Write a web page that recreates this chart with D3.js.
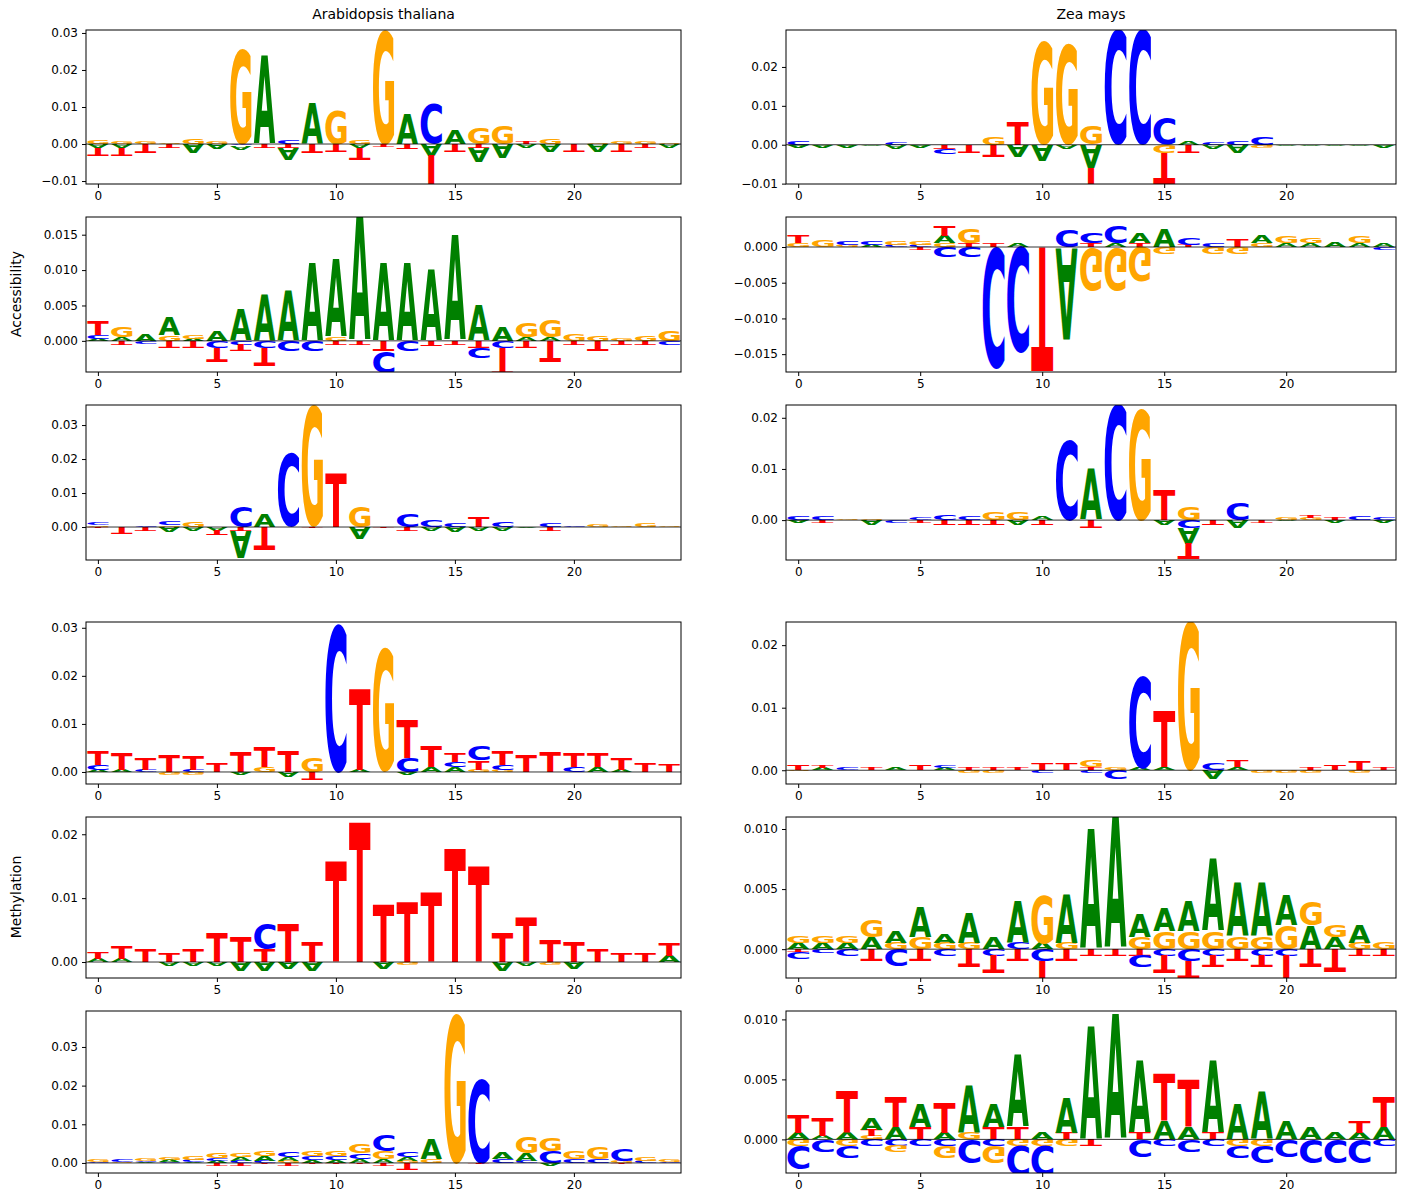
<!DOCTYPE html>
<html><head><meta charset="utf-8">
<script src="https://cdn.jsdelivr.net/npm/d3@7"></script>
<style>body{margin:0;background:#fff}svg{font-family:"DejaVu Sans",sans-serif}</style>
</head><body>
<svg id="fig" width="1409" height="1198"></svg>
<script>
// values in units of 1e-3, each row = [A, C, G, T] for one position
const letters = ['A', 'C', 'G', 'T']
const athAcc1 = [[-1,0,1,-2],[-1,0,.8,-2],[0,0,.8,-2.5],[0,0,.5,-1],[-2.5,0,1.5,0],[-1.5,0,.8,0],[-1,-.5,26,0],[24,0,0,-1],[-3,1,0,-1],[11,0,0,-2.5],[0,0,9,-2],[-1,0,1,-3],[0,0,31,-.5],[8,0,0,-1.5],[-3,11,0,-10],[4,0,0,-2],[-4,0,4.5,-1],[-4,0,5,0],[-1,0,0,.5],[-2,0,1.5,0],[0,0,0,-2],[-2,0,.5,0],[0,0,.8,-2],[0,0,.6,-1],[-1,0,.5,0]]
const athAcc2 = [[.3,.5,0,2],[.5,0,1.5,-.5],[1,-.3,0,0],[2.5,0,.8,-1],[.3,0,.5,-1],[1.5,-1,0,-2],[4.5,-.5,0,-1],[6.5,-1,0,-2.5],[7,-1.5,0,0],[11,-1.5,0,0],[11,0,.5,-.5],[18,0,0,-.5],[11,-3,0,-1.5],[11,-1.5,0,0],[10,0,0,-.8],[15,0,0,-.5],[5,-1.5,0,-1],[2,-1,0,-4],[.5,0,2,-1],[.5,0,2.5,-3],[0,0,1,-.5],[0,0,.8,-1.5],[0,0,.3,-.5],[0,0,.8,-.5],[0,-.5,1.5,0]]
const athAcc3 = [[0,.8,.5,-.5],[0,0,0,-2],[0,.5,0,-1],[-1.5,1,.5,0],[-1,0,1.5,0],[-1,0,0,-1.5],[-8,6,0,-1],[4,0,0,-7],[0,22,0,0],[0,0,36,-.5],[0,0,0,16],[-3.5,0,6,0],[0,0,0,-.5],[0,4,0,-1],[-1,2,0,0],[-1.5,1,0,0],[-1,0,0,3],[-1,1.5,0,0],[-.5,0,0,0],[0,1,0,-1],[0,.5,0,0],[0,0,.7,0],[0,0,.4,0],[0,0,1,0],[0,0,.5,0]]
const zmaAcc1 = [[-.5,1,0,0],[-.5,0,0,0],[-.8,0,0,0],[-.3,0,0,0],[-1,.5,0,0],[-.5,0,0,0],[0,-1.5,0,-1],[0,0,0,-2],[0,0,2,-3],[-3,0,0,6],[-4,0,27,0],[-1,0,26,0],[-6,0,5,-10],[0,30,0,0],[0,30,0,0],[0,7,-2,-8],[1,0,0,-2],[-1,.5,0,0],[-2,1,0,0],[0,2,-.5,0],[-.3,0,0,0],[-.3,0,0,0],[-.2,0,0,0],[-.2,0,0,0],[-.5,0,0,0]]
const zmaAcc2 = [[0,0,.5,1],[0,0,1,0],[0,.5,.3,0],[.3,.5,0,0],[0,.3,.5,0],[0,.3,.5,-.3],[1,-1.5,.5,1.5],[0,-1.5,2,.5],[0,-17,0,.5],[.5,-15,0,0],[0,0,0,-17.5],[-13,2.5,0,0],[0,1.5,-6,.5],[.5,2.5,-6,0],[1.5,0,-5,.5],[2.5,0,-1,0],[0,1,0,.3],[0,.5,-1,0],[0,0,-1,1],[1,0,.5,0],[.5,0,1,0],[.5,0,.8,0],[.8,0,0,0],[.5,0,1,0],[.6,-.3,0,0]]
const zmaAcc3 = [[-.5,.8,0,0],[0,.8,0,-.5],[0,0,.3,0],[-1,0,.3,0],[0,-.5,0,0],[0,.5,0,-.5],[0,1,0,-1],[0,.7,0,-1],[0,0,1.5,-1],[-1,0,1.5,0],[.8,0,0,-1],[0,16,0,0],[10,0,0,-1.5],[0,23,0,0],[0,0,22,0],[-1,0,0,6],[-3,-1.5,2.5,-3],[0,0,0,-1],[-1.5,3.5,0,0],[0,0,0,-.5],[-.3,0,.5,0],[0,0,.5,.5],[-.5,0,0,.5],[0,.7,0,0],[-.5,.5,0,0]]
const athMet1 = [[.5,1,0,3],[.5,0,0,3.5],[0,.5,0,2.5],[0,0,-.5,3.5],[0,.5,-.5,3],[0,0,0,2],[-.5,0,0,4],[0,0,1,4],[-1,0,0,4.5],[0,0,3,-1.5],[0,31,0,0],[.5,0,0,17],[0,0,26,0],[-.5,3,0,8],[1,0,0,4.5],[1,1,0,2],[0,3,.5,2],[0,1,.5,3],[0,0,0,3.5],[0,0,0,4],[0,1,0,3],[1,0,0,3],[.5,0,0,2.5],[0,0,0,2],[0,0,0,1.5]]
const athMet2 = [[.5,0,0,1],[.5,0,0,2],[0,0,0,2],[-.5,0,0,1.5],[-.5,0,0,2],[-.5,0,0,4.5],[-1.5,0,0,4],[-1.5,4,0,2],[-1,0,0,6],[-1.5,0,0,3],[0,0,0,16],[0,0,0,22],[-1,0,0,9],[0,0,-.5,9.5],[0,0,0,11],[0,0,0,18],[0,0,0,15],[-1.5,0,0,4.5],[-.5,0,0,7],[0,0,-.5,3.5],[-1,0,0,3],[0,0,0,2],[0,0,0,1.5],[0,0,0,1.5],[1,0,0,2]]
const athMet3 = [[0,.3,.5,0],[0,.5,.3,0],[.3,.3,.5,0],[.5,.3,.5,0],[.3,.5,1,0],[.5,.8,1.5,-.5],[1,.5,1,-.5],[1.2,.5,1.5,-.3],[1,1.5,.5,-.5],[.8,1,1.5,-.3],[.8,1,1.5,-.3],[1,1.5,2.5,-.3],[1,4,2,-.5],[1,1.5,.5,-1.5],[5,0,1,0],[0,0,39,0],[0,22,0,-.3],[1.5,1,0,0],[2,.5,4,0],[-.5,3,3.5,0],[0,1,2,0],[0,1,3,0],[0,3,.5,-.3],[0,.5,1,0],[0,.3,.5,0]]
const zmaMet1 = [[0,0,-.2,.8],[.3,0,0,.5],[0,.3,0,0],[0,0,0,.5],[.5,0,0,0],[0,0,0,.8],[.3,.5,0,0],[0,0,-.5,.5],[0,0,-.5,.5],[0,0,0,.3],[0,-.5,0,1],[0,0,0,1],[0,-.5,1,.5],[0,-1.5,.5,0],[.3,15,0,0],[.5,0,0,9],[0,0,24,0],[-1.5,1,0,0],[.5,0,0,1],[0,0,-.5,0],[0,0,-.5,0],[0,0,-.3,.5],[0,0,0,.8],[0,0,-.3,1.5],[0,0,0,.5]]
const zmaMet2 = [[.5,-.5,.5,-.2],[.5,-.3,.5,0],[.5,-.5,.5,0],[1,0,1.5,-1],[1,-1.5,.5,0],[2.5,0,1,-1],[.8,-.5,.5,0],[2.5,0,.5,-1.5],[1,-.5,0,-1.5],[3.5,.5,0,-1],[.5,-1,4,-2],[4,0,.5,-1],[10,0,0,-.5],[11,0,0,-.5],[2,-1,1,-.5],[2,-.5,1.5,-1.5],[2.5,-1,1.5,-1.5],[6,-.5,1.5,-1],[4.5,0,1,-1],[4.5,-.5,1,-1],[2.5,-.5,2,-2.5],[2,0,2,-1.5],[1,0,1,-2],[1.5,0,.5,-.5],[0,0,.5,-.5]]
const zmaMet3 = [[.5,-2,-.5,1.5],[.3,-1,0,1.5],[.5,-1,-.5,3.5],[1,-.5,.3,.5],[1,-.5,-.5,2.5],[2,-.5,0,1],[.5,-.5,-1,2.5],[4,-2,.5,0],[2,-.5,-1.5,1],[6,-2.5,-.5,1],[.5,-2.5,-.5,0],[3,0,-.5,.5],[9.5,0,0,-.5],[10.5,0,0,0],[6,-1.5,0,.5],[1.5,-.5,0,4],[1,-1,0,4],[6,-.5,0,.5],[3,-1,-.5,0],[4,-1.5,-.5,0],[1.5,-1.5,0,0],[1,-2,0,0],[.5,-2,0,0],[.5,-2,0,1],[1,-.5,0,2.5]]

const colors = { A: '#008000', C: '#0000ff', G: '#ffa500', T: '#ff0000' }
const positions = d3.range(25)

const panels = [
  { data: athAcc1, col: 0, y0: 30, y1: 184, dom: [-0.0108, 0.0308], ticks: [-0.01, 0, 0.01, 0.02, 0.03], fmt: '.2f' },
  { data: athAcc2, col: 0, y0: 217, y1: 372, dom: [-0.0044, 0.0175], ticks: [0, 0.005, 0.01, 0.015], fmt: '.3f' },
  { data: athAcc3, col: 0, y0: 405, y1: 560, dom: [-0.0097, 0.0359], ticks: [0, 0.01, 0.02, 0.03], fmt: '.2f' },
  { data: athMet1, col: 0, y0: 622, y1: 784, dom: [-0.0025, 0.0312], ticks: [0, 0.01, 0.02, 0.03], fmt: '.2f' },
  { data: athMet2, col: 0, y0: 817, y1: 978, dom: [-0.0025, 0.0227], ticks: [0, 0.01, 0.02], fmt: '.2f' },
  { data: athMet3, col: 0, y0: 1011, y1: 1173, dom: [-0.0026, 0.0393], ticks: [0, 0.01, 0.02, 0.03], fmt: '.2f' },
  { data: zmaAcc1, col: 1, y0: 30, y1: 184, dom: [-0.0101, 0.0295], ticks: [-0.01, 0, 0.01, 0.02], fmt: '.2f' },
  { data: zmaAcc2, col: 1, y0: 217, y1: 372, dom: [-0.0175, 0.0042], ticks: [-0.015, -0.01, -0.005, 0], fmt: '.3f' },
  { data: zmaAcc3, col: 1, y0: 405, y1: 560, dom: [-0.0078, 0.0225], ticks: [0, 0.01, 0.02], fmt: '.2f' },
  { data: zmaMet1, col: 1, y0: 622, y1: 784, dom: [-0.0022, 0.0237], ticks: [0, 0.01, 0.02], fmt: '.2f' },
  { data: zmaMet2, col: 1, y0: 817, y1: 978, dom: [-0.0024, 0.011], ticks: [0, 0.005, 0.01], fmt: '.3f' },
  { data: zmaMet3, col: 1, y0: 1011, y1: 1173, dom: [-0.0028, 0.0107], ticks: [0, 0.005, 0.01], fmt: '.3f' },
]
const colX = [[86, 681], [786, 1396]]

// ink bounds of each glyph, used to stretch letters into their boxes
const ctx = document.createElement('canvas').getContext('2d')
ctx.font = 'bold 100px "DejaVu Sans"'
const glyph = {}
for (const l of letters) {
  const m = ctx.measureText(l)
  glyph[l] = { x: -m.actualBoundingBoxLeft, w: m.actualBoundingBoxLeft + m.actualBoundingBoxRight, y: -m.actualBoundingBoxAscent, h: m.actualBoundingBoxAscent + m.actualBoundingBoxDescent }
}

const svg = d3.select('#fig')
const minus = (s) => s.replace('-', '\u2212')

panels.forEach((p, pi) => {
  const [xl, xr] = colX[p.col]
  const x = d3.scaleLinear().domain([-0.5, 24.5]).range([xl, xr])
  const y = d3.scaleLinear().domain(p.dom).range([p.y1, p.y0])
  const g = svg.append('g')
  const clipId = 'clip' + pi
  g.append('clipPath').attr('id', clipId).append('rect')
    .attr('x', xl).attr('y', p.y0).attr('width', xr - xl).attr('height', p.y1 - p.y0)
  const marks = g.append('g').attr('clip-path', `url(#${clipId})`)
  const bw = (x(1) - x(0)) * 0.9

  p.data.forEach((row, i) => {
    const items = row.map((v, k) => ({ l: letters[k], v: v / 1000 })).filter((d) => d.v !== 0)
    const pos = items.filter((d) => d.v > 0).sort((a, b) => a.v - b.v)
    const neg = items.filter((d) => d.v < 0).sort((a, b) => b.v - a.v)
    const x0 = x(i) - bw / 2
    let acc = 0
    for (const d of pos) {
      const gl = glyph[d.l]
      const top = y(acc + d.v), h = y(acc) - top
      marks.append('text').text(d.l).attr('font-size', 100).attr('font-weight', 'bold')
        .attr('fill', colors[d.l])
        .attr('transform', `translate(${x0},${top}) scale(${bw / gl.w},${h / gl.h}) translate(${-gl.x},${-gl.y})`)
      acc += d.v
    }
    acc = 0
    for (const d of neg) {
      const gl = glyph[d.l]
      const bot = y(acc + d.v), h = bot - y(acc)
      marks.append('text').text(d.l).attr('font-size', 100).attr('font-weight', 'bold')
        .attr('fill', colors[d.l])
        .attr('transform', `translate(${x0},${bot}) scale(${bw / gl.w},${-h / gl.h}) translate(${-gl.x},${-gl.y})`)
      acc += d.v
    }
  })

  marks.append('line').attr('x1', xl).attr('x2', xr).attr('y1', y(0)).attr('y2', y(0))
    .attr('stroke', '#000').attr('stroke-width', 0.8)

  g.append('rect').attr('x', xl).attr('y', p.y0).attr('width', xr - xl).attr('height', p.y1 - p.y0)
    .attr('fill', 'none').attr('stroke', '#000').attr('stroke-width', 1)

  const fmt = d3.format(p.fmt)
  const ya = g.append('g').attr('transform', `translate(${xl},0)`)
    .call(d3.axisLeft(y).tickValues(p.ticks).tickSize(4).tickPadding(4).tickFormat((d) => minus(fmt(d))))
  const xa = g.append('g').attr('transform', `translate(0,${p.y1})`)
    .call(d3.axisBottom(x).tickValues([0, 5, 10, 15, 20]).tickSize(4).tickPadding(3))
  for (const a of [ya, xa]) {
    a.select('.domain').remove()
    a.selectAll('text').attr('font-size', 12).attr('font-family', '"DejaVu Sans", sans-serif').attr('fill', '#000')
    a.selectAll('line').attr('stroke', '#000')
  }
})

const titles = ['Arabidopsis thaliana', 'Zea mays']
titles.forEach((t, i) => {
  svg.append('text').attr('x', (colX[i][0] + colX[i][1]) / 2).attr('y', 19)
    .attr('text-anchor', 'middle').attr('font-size', 14).text(t)
})
const ylabels = [['Accessibility', 294], ['Methylation', 897]]
for (const [t, cy] of ylabels) {
  svg.append('text').attr('transform', `translate(21,${cy}) rotate(-90)`)
    .attr('text-anchor', 'middle').attr('font-size', 14).text(t)
}
</script>
</body></html>
